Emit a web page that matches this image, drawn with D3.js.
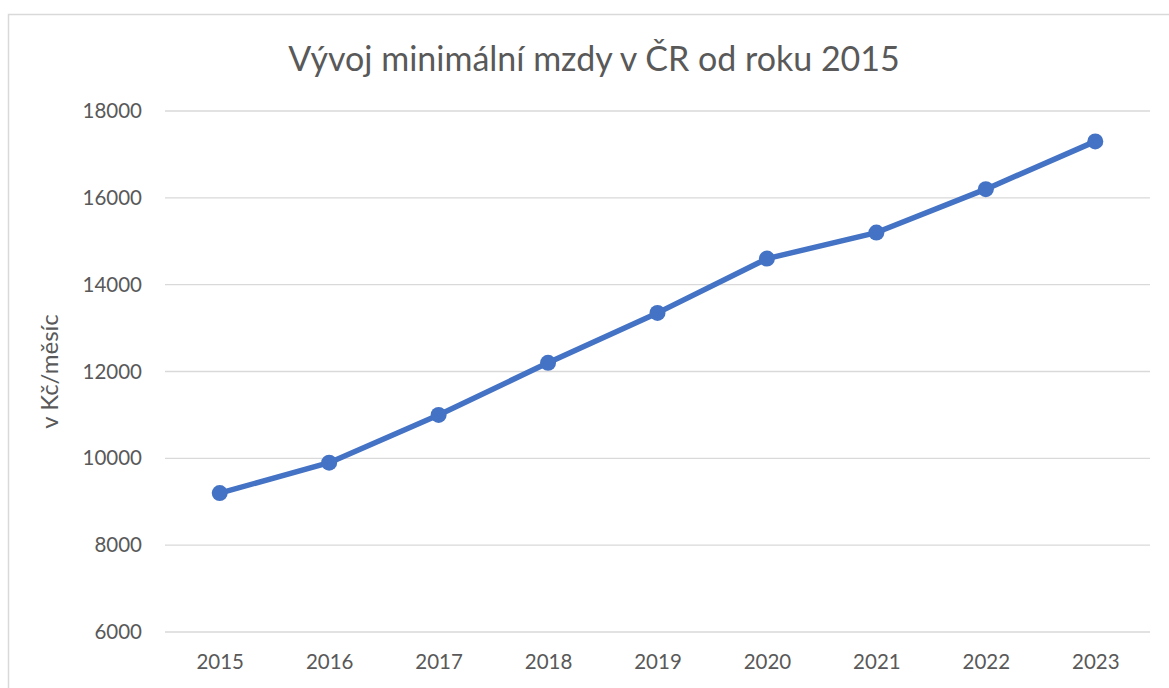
<!DOCTYPE html>
<html>
<head>
<meta charset="utf-8">
<script src="https://cdn.jsdelivr.net/npm/d3@7"></script>
<style>
  body { margin: 0; background: #fff; }
  text { font-family: Lato, "Open Sans", sans-serif; fill: #595959; }
</style>
</head>
<body>
<div class="chart"></div>
<script>
// data
var years = ["2015", "2016", "2017", "2018", "2019", "2020", "2021", "2022", "2023"];
var wages = [9200, 9900, 11000, 12200, 13350, 14600, 15200, 16200, 17300];
var yTicks = [6000, 8000, 10000, 12000, 14000, 16000, 18000];

var svgWidth = 1169;
var svgHeight = 688;

var margin = {top: 111, right: 19, bottom: 56, left: 165};
var width = svgWidth - margin.left - margin.right;
var height = svgHeight - margin.top - margin.bottom;

var svg = d3.select(".chart")
  .append("svg")
  .attr("width", svgWidth)
  .attr("height", svgHeight);

// chart frame
svg.append("rect")
  .attr("x", 8.5)
  .attr("y", 14.5)
  .attr("width", 1200)
  .attr("height", 700)
  .attr("fill", "none")
  .attr("stroke", "#d9d9d9")
  .attr("stroke-width", 1.5);

var chart = svg.append("g")
  .attr("transform", "translate(" + margin.left + "," + margin.top + ")");

var xScale = d3.scalePoint()
  .domain(years)
  .range([0, width])
  .padding(0.5);

var yScale = d3.scaleLinear()
  .domain([6000, 18000])
  .range([height, 0]);

// gridlines
chart.append("g")
  .selectAll("line")
  .data(yTicks)
  .enter()
  .append("line")
  .attr("x1", 0)
  .attr("x2", width)
  .attr("y1", function(d) { return yScale(d); })
  .attr("y2", function(d) { return yScale(d); })
  .attr("stroke", "#d9d9d9")
  .attr("stroke-width", 1.3);

// y axis labels
var leftAxis = d3.axisLeft(yScale).tickValues(yTicks).tickFormat(d3.format("d")).tickSize(0).tickPadding(23);
var yAxis = chart.append("g").call(leftAxis);
yAxis.select(".domain").remove();
yAxis.selectAll("text").style("font-size", "20.5px").attr("fill", "#595959");

// x axis labels
var bottomAxis = d3.axisBottom(xScale).tickSize(0).tickPadding(22);
var xAxis = chart.append("g")
  .attr("transform", "translate(0," + height + ")")
  .call(bottomAxis);
xAxis.select(".domain").remove();
xAxis.selectAll("text").style("font-size", "20.5px").attr("fill", "#595959");

// line
var line = d3.line()
  .x(function(d, i) { return xScale(years[i]); })
  .y(function(d) { return yScale(d); });

chart.append("path")
  .datum(wages)
  .attr("d", line)
  .attr("fill", "none")
  .attr("stroke", "#4472c4")
  .attr("stroke-width", 5.5)
  .attr("stroke-linejoin", "round");

chart.selectAll("circle")
  .data(wages)
  .enter()
  .append("circle")
  .attr("cx", function(d, i) { return xScale(years[i]); })
  .attr("cy", function(d) { return yScale(d); })
  .attr("r", 8)
  .attr("fill", "#4472c4");

// title
svg.append("text")
  .attr("x", 594)
  .attr("y", 71)
  .attr("text-anchor", "middle")
  .style("font-size", "34px")
  .text("Vývoj minimální mzdy v ČR od roku 2015");

// y axis title
svg.append("text")
  .attr("transform", "translate(58," + (margin.top + height / 2) + ") rotate(-90)")
  .attr("text-anchor", "middle")
  .style("font-size", "24px")
  .text("v Kč/měsíc");
</script>
</body>
</html>
